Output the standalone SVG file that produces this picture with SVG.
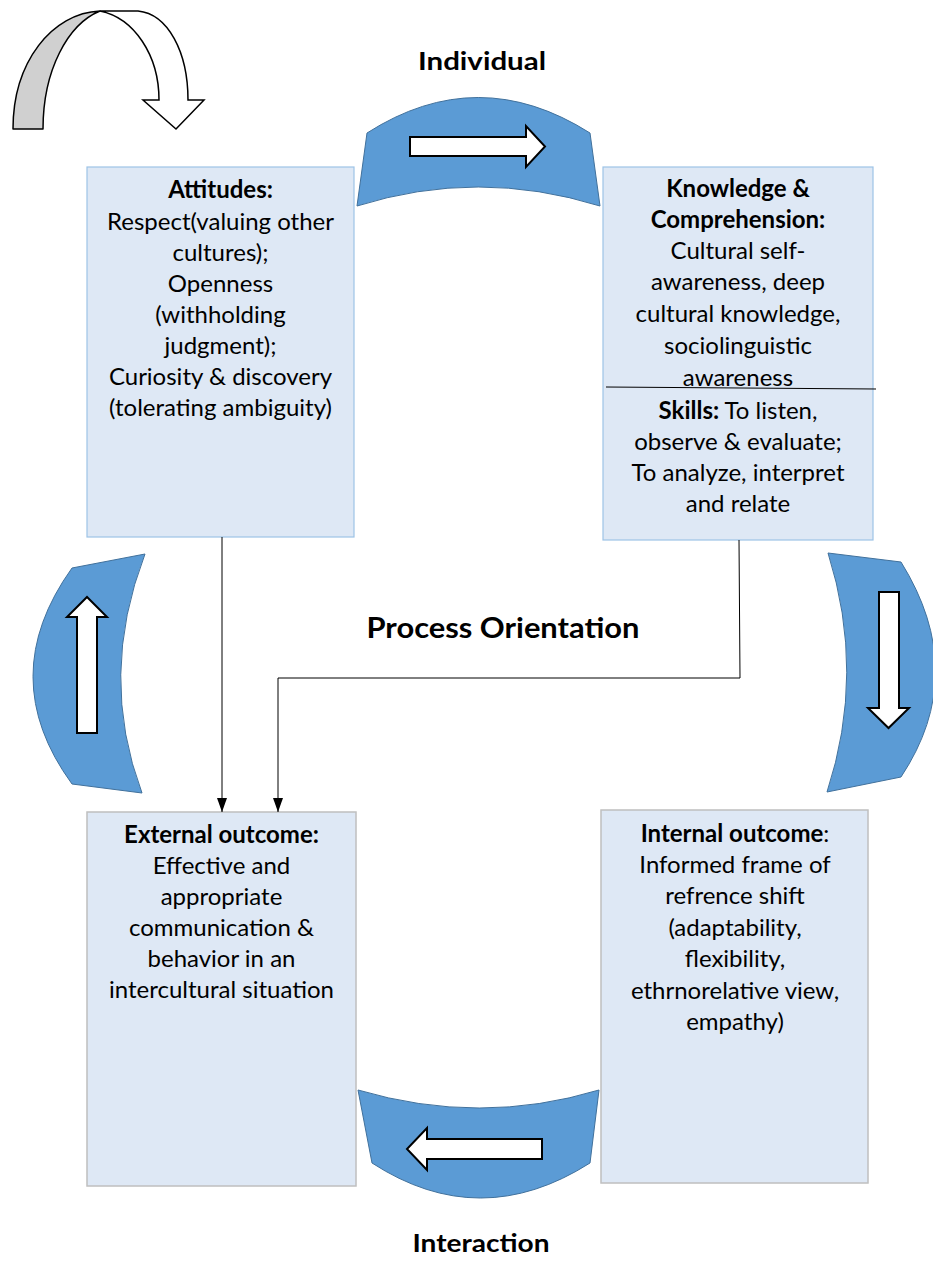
<svg xmlns="http://www.w3.org/2000/svg" width="933" height="1271" viewBox="0 0 933 1271">
<defs>
<style>
.box1{fill:#dee8f5;stroke:#9dc3e6;stroke-width:1.2}
.box2{fill:#dee8f5;stroke:#bfbfbf;stroke-width:1.5}
.band{fill:#5b9bd5;stroke:#41719c;stroke-width:1}
.warr{fill:#ffffff;stroke:#000000;stroke-width:2;stroke-linejoin:miter}
.t{font-family:Lato,"Liberation Sans",sans-serif;font-size:24px;fill:#000;text-anchor:middle}
.b{font-weight:bold}
.lbl{font-family:Lato,"Liberation Sans",sans-serif;font-weight:bold;fill:#000;text-anchor:middle}
.conn{fill:none;stroke:#000;stroke-width:1}
</style>
<marker id="ah" markerUnits="userSpaceOnUse" markerWidth="14" markerHeight="10" refX="14" refY="5" orient="auto">
<path d="M0,0 L14,5 L0,10 Z" fill="#000"/>
</marker>
</defs>
<rect width="933" height="1271" fill="#ffffff"/>

<g id="curved-arrow">
<path d="M13,129 C13,62 52,13 100,11 C68,24 43,70 43,129 Z" fill="#d0d0d0" stroke="#000" stroke-width="1.5" stroke-linejoin="round"/>
<path d="M100,11 L138,11 C168,14 188,52 188,100 L204,100 L176,129 L143,100 L159,100 C159,55 134,18 100,11 Z" fill="#ffffff" stroke="#000" stroke-width="1.5" stroke-linejoin="miter"/>
</g>

<g id="label-individual"><text class="lbl" x="482" y="70" font-size="25" textLength="128" lengthAdjust="spacingAndGlyphs">Individual</text></g>
<g id="label-process"><text class="lbl" x="503" y="638" font-size="29" textLength="273" lengthAdjust="spacingAndGlyphs">Process Orientation</text></g>
<g id="label-interaction"><text class="lbl" x="481" y="1252" font-size="25" textLength="137" lengthAdjust="spacingAndGlyphs">Interaction</text></g>

<g id="band-top">
<path class="band" d="M367,133 Q478,62 590,133 L600,206 Q478,168 357,206 Z"/>
<path class="warr" d="M410,137 L526,137 L526,126 L545,146.5 L526,167 L526,156 L410,156 Z"/>
</g>
<g id="band-right">
<path class="band" d="M828,553 L901,562 Q970,673 901,777 L827,792 Q866,673 828,553 Z"/>
<path class="warr" d="M879,592 L899,592 L899,708 L909,708 L888.5,728 L868,708 L879,708 Z"/>
</g>
<g id="band-bottom">
<path class="band" d="M358,1090 Q480,1126 599,1090 L590,1163 Q480,1233 372,1163 Z"/>
<path class="warr" d="M542,1139 L427,1139 L427,1128 L407,1149 L427,1170 L427,1159 L542,1159 Z"/>
</g>
<g id="band-left">
<path class="band" d="M145,554 L72,568 Q-6,677 72,784 L142,793 Q98,676 145,554 Z"/>
<path class="warr" d="M77,733 L77,617 L67,617 L87,597 L107,617 L97,617 L97,733 Z"/>
</g>

<g id="node-attitudes">
<rect class="box1" x="87" y="167" width="267" height="370"/>
<text class="t b" x="220.5" y="198">Attitudes:</text>
<text class="t" x="220.5" y="230">Respect(valuing other</text>
<text class="t" x="220.5" y="261">cultures);</text>
<text class="t" x="220.5" y="292">Openness</text>
<text class="t" x="220.5" y="323">(withholding</text>
<text class="t" x="220.5" y="354">judgment);</text>
<text class="t" x="220.5" y="385">Curiosity &amp; discovery</text>
<text class="t" x="220.5" y="416">(tolerating ambiguity)</text>
</g>

<g id="node-knowledge">
<rect class="box1" x="603" y="167" width="270" height="373"/>
<text class="t b" x="738" y="197">Knowledge &amp;</text>
<text class="t b" x="738" y="228">Comprehension:</text>
<text class="t" x="738" y="259">Cultural self-</text>
<text class="t" x="738" y="290">awareness, deep</text>
<text class="t" x="738" y="322">cultural knowledge,</text>
<text class="t" x="738" y="354">sociolinguistic</text>
<text class="t" x="738" y="386">awareness</text>
<line x1="606" y1="387" x2="876" y2="389" stroke="#000" stroke-width="1"/>
<text class="t" x="738" y="419"><tspan font-weight="bold">Skills:</tspan> To listen,</text>
<text class="t" x="738" y="450">observe &amp; evaluate;</text>
<text class="t" x="738" y="481">To analyze, interpret</text>
<text class="t" x="738" y="512">and relate</text>
</g>

<g id="node-external">
<rect class="box2" x="87" y="812" width="269" height="374"/>
<text class="t b" x="221.5" y="843">External outcome:</text>
<text class="t" x="221.5" y="874">Effective and</text>
<text class="t" x="221.5" y="905">appropriate</text>
<text class="t" x="221.5" y="936">communication &amp;</text>
<text class="t" x="221.5" y="967">behavior in an</text>
<text class="t" x="221.5" y="998">intercultural situation</text>
</g>

<g id="node-internal">
<rect class="box2" x="601" y="810" width="267" height="373"/>
<text class="t" x="735" y="842"><tspan font-weight="bold">Internal outcome</tspan>:</text>
<text class="t" x="735" y="873">Informed frame of</text>
<text class="t" x="735" y="904">refrence shift</text>
<text class="t" x="735" y="936">(adaptability,</text>
<text class="t" x="735" y="967">flexibility,</text>
<text class="t" x="735" y="999">ethrnorelative view,</text>
<text class="t" x="735" y="1030">empathy)</text>
</g>

<g id="connectors">
<path class="conn" d="M222,537 L222,812" marker-end="url(#ah)"/>
<path class="conn" d="M739,540 L740,678 L278,678 L278,812" marker-end="url(#ah)"/>
</g>
</svg>
